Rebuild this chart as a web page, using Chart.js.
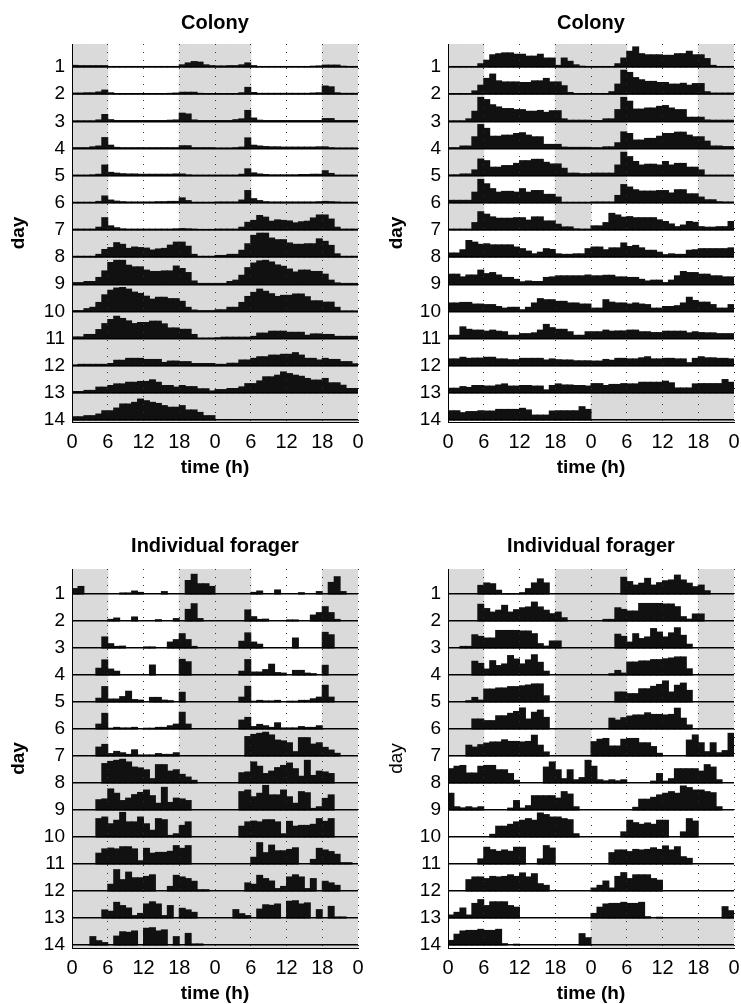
<!DOCTYPE html>
<html>
<head>
<meta charset="utf-8">
<script src="https://cdn.jsdelivr.net/npm/chart.js@4.4.0/dist/chart.umd.min.js"></script>
<style>
html,body{margin:0;padding:0;background:#fff;overflow:hidden;width:741px;height:1004px;}
.box{position:absolute;}
</style>
</head>
<body>
<div class="box" style="left:0px;top:0px;width:372px;height:478px"><canvas id="c0"></canvas></div>
<div class="box" style="left:376px;top:0px;width:365px;height:478px"><canvas id="c1"></canvas></div>
<div class="box" style="left:0px;top:500px;width:372px;height:504px"><canvas id="c2"></canvas></div>
<div class="box" style="left:376px;top:500px;width:365px;height:504px"><canvas id="c3"></canvas></div>
<script>
// ---------- tick labels ----------
const xTickLabels = ['0','6','12','18','0','6','12','18','0'];
const dayLabels = ['1','2','3','4','5','6','7','8','9','10','11','12','13','14'];

// ---------- lighting per day (LD = 6-18 light, DD = constant dark, LL = constant light) ----------
const lightColonyDD  = ['LD','LD','LD','LD','LD','LD','LD','DD','DD','DD','DD','DD','DD','DD'];
const lightColonyLL  = ['LD','LD','LD','LD','LD','LD','LD','LL','LL','LL','LL','LL','LL','LL'];
const lightForagerDD = ['LD','LD','LD','LD','LD','LD','LD','DD','DD','DD','DD','DD','DD','DD'];
const lightForagerLL = ['LD','LD','LD','LD','LD','LD','LD','LL','LL','LL','LL','LL','LL','LL'];

// ---------- hourly activity per day (% of row height), hours 0..23 ----------
const colonyDD = [
 [6,5,5,5,5,5, 2,2,2,2,2,2, 2,2,2,2,2,2, 8,15,20,18,8,5],
 [4,4,5,5,8,15, 5,2,2,2,2,2, 2,2,2,2,3,4, 7,7,7,3,2,2],
 [2,2,2,2,5,25, 6,3,3,3,3,3, 3,3,3,3,4,5, 30,27,5,3,3,3],
 [3,3,3,6,9,40, 12,4,3,3,3,3, 3,3,3,3,3,3, 10,10,3,3,3,3],
 [2,2,2,3,5,39, 12,9,7,6,6,5, 5,5,5,5,5,6, 6,3,2,2,2,2],
 [2,2,2,2,5,25, 10,6,4,3,3,3, 3,3,4,4,5,5, 18,8,2,2,2,2],
 [3,3,3,3,10,45, 15,8,4,3,3,3, 3,3,3,3,3,4, 5,4,3,2,2,2],
 [3,3,3,3,10,28, 35,53,47,32,37,35, 33,26,30,32,44,55, 55,40,10,3,3,3],
 [6,6,10,10,25,49, 80,88,88,70,64,64, 52,47,47,49,49,67, 58,43,12,3,3,3],
 [3,3,10,15,33,61, 78,86,88,82,71,66, 56,45,52,52,47,47, 37,15,5,3,3,3],
 [6,6,15,15,33,55, 70,82,74,65,55,59, 59,64,64,54,39,39, 34,34,15,2,2,2],
 [3,5,5,5,5,5, 8,20,20,27,27,27, 23,23,23,12,17,17, 15,15,8,8,8,8],
 [5,5,9,9,21,21, 27,33,33,39,39,42, 42,48,39,27,27,21, 27,23,23,15,15,7],
 [12,12,16,16,22,34, 34,44,59,59,65,77, 71,65,61,53,47,47, 53,37,37,28,16,16]
];
const colonyLL = [
 [2,2,2,2,2,12, 25,45,49,52,52,47, 47,40,40,47,33,33, 6,33,21,8,3,2],
 [2,2,2,2,12,33, 58,74,49,45,45,45, 43,43,49,49,58,45, 45,31,6,2,2,2],
 [2,2,2,9,37,88, 80,61,53,47,47,43, 43,37,37,40,33,39, 39,9,4,4,4,4],
 [3,3,9,9,43,88, 74,45,45,49,49,55, 58,49,43,43,15,15, 15,5,4,4,4,4],
 [3,3,6,6,21,61, 55,31,31,37,37,45, 55,55,60,60,49,43, 43,27,9,9,7,7],
 [9,9,9,9,39,86, 70,52,39,42,42,39, 52,39,45,45,31,31, 21,2,2,2,2,2],
 [3,3,3,3,27,67, 58,48,43,43,43,45, 45,36,48,48,33,33, 21,11,11,4,3,3],
 [15,15,27,61,55,47, 49,45,45,45,45,37, 31,22,12,18,31,28, 12,10,10,12,12,31],
 [37,37,27,34,34,52, 39,43,34,25,25,18, 9,12,10,10,25,27, 31,31,31,31,31,34],
 [31,31,33,33,27,27, 25,25,18,12,15,15, 6,15,31,47,43,43, 37,37,31,31,27,27],
 [12,12,43,34,31,31, 27,31,27,25,12,12, 18,18,21,31,52,40, 34,34,25,12,12,25],
 [25,25,31,27,28,28, 31,31,25,25,22,22, 27,27,27,27,21,25, 22,21,21,18,18,18],
 [17,17,23,20,27,27, 25,25,29,33,25,25, 27,27,25,25,11,27, 33,29,29,27,27,25],
 [34,34,27,31,31,34, 33,33,39,39,39,39, 43,37,18,18,18,33, 34,34,34,34,49,39]
];
const foragerDD = [
 [20,28,0,0,0,0, 0,0,4,4,11,6, 0,0,0,9,0,0, 0,50,73,38,38,28],
 [0,0,0,0,0,0, 6,11,0,0,15,0, 0,0,5,0,0,9, 0,43,64,9,0,0],
 [0,0,0,0,0,41, 16,6,7,0,0,0, 4,4,0,0,22,31, 53,31,6,0,0,0],
 [0,0,0,0,25,56, 22,14,0,0,0,0, 0,37,0,0,0,0, 58,49,0,0,0,0],
 [0,0,0,0,14,57, 11,11,20,40,9,7, 0,17,17,7,5,0, 36,0,0,0,0,0],
 [0,0,0,0,18,58, 3,6,4,4,6,0, 3,3,6,6,12,18, 62,18,0,0,0,0],
 [0,0,0,0,33,43, 9,17,12,6,23,4, 4,4,9,6,6,12, 0,0,0,0,0,0],
 [0,0,0,0,0,72, 80,84,88,78,59,56, 49,16,68,68,44,49, 32,22,10,0,0,0],
 [0,0,0,0,38,41, 78,62,35,44,57,65, 74,53,25,84,28,44, 41,35,0,0,0,0],
 [0,0,0,0,68,74, 49,62,91,56,56,74, 49,25,68,64,6,12, 43,56,0,0,0,0],
 [0,0,0,0,40,56, 59,56,64,64,56,12, 58,40,43,43,47,68, 58,68,0,0,0,0],
 [0,0,0,0,0,0, 25,79,42,70,49,49, 54,60,0,0,17,58, 52,46,36,5,5,0],
 [0,0,0,0,0,30, 25,58,46,37,9,17, 52,60,52,9,46,0, 36,30,21,0,0,0],
 [0,0,0,31,16,9, 0,33,49,47,52,0, 62,64,52,56,0,31, 0,43,4,4,0,0]
];
const foragerLL = [
 [0,0,0,0,0,32, 41,38,14,1,1,1, 5,20,41,56,41,0, 0,0,0,0,0,0],
 [0,0,0,0,0,62, 46,33,40,58,33,42, 49,52,70,52,40,27, 33,12,0,0,0,0],
 [0,0,6,6,49,43, 37,37,65,65,65,65, 63,63,53,16,7,26, 26,0,0,0,0,0],
 [0,0,0,0,51,43, 22,53,35,41,72,59, 41,56,75,47,14,0, 0,0,0,0,0,0],
 [0,0,0,5,17,7, 48,48,52,52,57,57, 60,63,67,67,23,0, 0,0,0,0,0,0],
 [0,0,0,0,37,37, 31,31,49,49,58,65, 78,37,62,70,43,0, 0,0,0,0,0,0],
 [0,0,0,40,33,42, 48,52,52,60,54,54, 52,54,77,40,15,0, 0,0,0,0,0,0],
 [53,62,65,37,37,62, 65,65,49,49,35,10, 0,0,0,0,59,78, 49,16,49,12,20,84],
 [62,12,8,12,8,12, 0,0,0,0,7,35, 7,16,53,53,53,53, 44,68,59,12,0,0],
 [0,0,0,0,0,0, 0,10,40,40,47,56, 62,68,62,89,83,74, 74,68,64,12,0,0],
 [0,0,0,0,0,19, 62,53,47,52,47,62, 62,0,0,19,68,59, 0,0,0,0,0,0],
 [0,0,0,42,52,52, 46,54,52,54,60,54, 67,52,64,27,21,0, 0,0,0,0,0,0],
 [11,21,37,11,54,68, 46,60,60,60,46,40, 0,0,0,0,0,0, 0,0,0,0,0,0],
 [17,40,52,54,54,58, 54,54,58,5,0,3, 0,0,0,0,0,0, 0,0,0,0,42,27]
];

// ---------- build double-plotted datasets ----------
function buildPanel(days, light, yMax) {
  const shade = [], act = [];
  const nRows = days.length;
  for (let r = 1; r <= nRows; r++) {
    for (let k = 0; k < 48; k++) {
      const d = r - 1 + Math.floor(k / 24);
      const h = k % 24;
      const type = d < light.length ? light[d] : 'NA';
      const dark = type !== 'LL' && (type !== 'LD' || h < 6 || h >= 18);
      if (dark) shade.push({x: k + 0.5, y: [r - 1, r === nRows ? yMax : r]});
      if (d < days.length) {
        const v = days[d][h];
        if (v > 0) act.push({x: k + 0.5, y: [r - v / 100, r]});
      }
    }
  }
  return {shade, act};
}

Chart.defaults.font.family = "'Liberation Sans', Arial, Helvetica, sans-serif";
Chart.defaults.color = '#000';

function makeChart(cfg) {
  const p = buildPanel(cfg.days, cfg.light, cfg.yMax);
  new Chart(document.getElementById(cfg.id), {
    type: 'bar',
    data: {
      datasets: [
        {data: p.shade, backgroundColor: '#dadada', borderWidth: 0, grouped: false, clip: 0,
         barPercentage: 1, categoryPercentage: 1, inflateAmount: 0.5, order: 2},
        {data: p.act, backgroundColor: '#111111', borderWidth: 0, grouped: false, clip: 0,
         barPercentage: 1, categoryPercentage: 1, inflateAmount: 0.5, order: 1}
      ]
    },
    options: {
      responsive: true,
      maintainAspectRatio: false,
      animation: false,
      events: [],
      layout: {padding: {left: 0, right: cfg.padRight, top: 0, bottom: 0}},
      plugins: {
        legend: {display: false},
        tooltip: {enabled: false},
        title: {
          display: true, text: cfg.title, fullSize: false, color: '#000',
          font: {size: 20, weight: 'bold', lineHeight: 1},
          padding: {top: cfg.titleTop, bottom: cfg.titleBottom}
        }
      },
      scales: {
        x: {
          type: 'linear', min: 0, max: 48, position: 'bottom', offset: false,
          afterFit: (s) => { s.height = 56; },
          ticks: {stepSize: 6, autoSkip: false, maxRotation: 0, padding: 0,
                  font: {size: 20, lineHeight: 2.0},
                  callback: (v) => xTickLabels[Math.round(v / 6)]},
          grid: {color: '#333', lineWidth: 1, drawTicks: false, offset: false, z: 1},
          border: {display: true, color: '#000', width: 1, dash: [1, 7], z: 1},
          title: {display: true, text: 'time (h)', font: {size: 19, weight: 'bold', lineHeight: 1},
                  padding: {top: 0, bottom: 0.5}}
        },
        y: {
          type: 'linear', reverse: true, min: cfg.yMin, max: cfg.yMax, bounds: 'data',
          afterFit: (s) => { s.width = 72; },
          afterBuildTicks: (s) => { s.ticks = dayLabels.map((l, i) => ({value: i + 1})); },
          ticks: {padding: 7, font: {size: 19, lineHeight: 1},
                  callback: (v) => dayLabels[Math.round(v) - 1]},
          grid: {color: '#000', lineWidth: 1.4, drawTicks: false, z: 1},
          border: {display: true, color: '#000', width: 1, z: 1},
          title: {display: true, text: 'day',
                  font: {size: 19, weight: cfg.dayBold ? 'bold' : 'normal', lineHeight: 1},
                  padding: {top: cfg.dayPad, bottom: 0}}
        }
      }
    }
  });
}

makeChart({id: 'c0', title: 'Colony', days: colonyDD, light: lightColonyDD,
  yMin: 0.153, yMax: 14.074, padRight: 14, titleTop: 13.3, titleBottom: 10.7, dayPad: 9.5, dayBold: true});
makeChart({id: 'c1', title: 'Colony', days: colonyLL, light: lightColonyLL,
  yMin: 0.153, yMax: 14.074, padRight: 7, titleTop: 13.3, titleBottom: 10.7, dayPad: 11.5, dayBold: true});
makeChart({id: 'c2', title: 'Individual forager', days: foragerDD, light: lightForagerDD,
  yMin: 0.074, yMax: 14.111, padRight: 14, titleTop: 36.7, titleBottom: 12.3, dayPad: 9.5, dayBold: true});
makeChart({id: 'c3', title: 'Individual forager', days: foragerLL, light: lightForagerLL,
  yMin: 0.074, yMax: 14.111, padRight: 7, titleTop: 36.7, titleBottom: 12.3, dayPad: 11.5, dayBold: false});
</script>
</body>
</html>
